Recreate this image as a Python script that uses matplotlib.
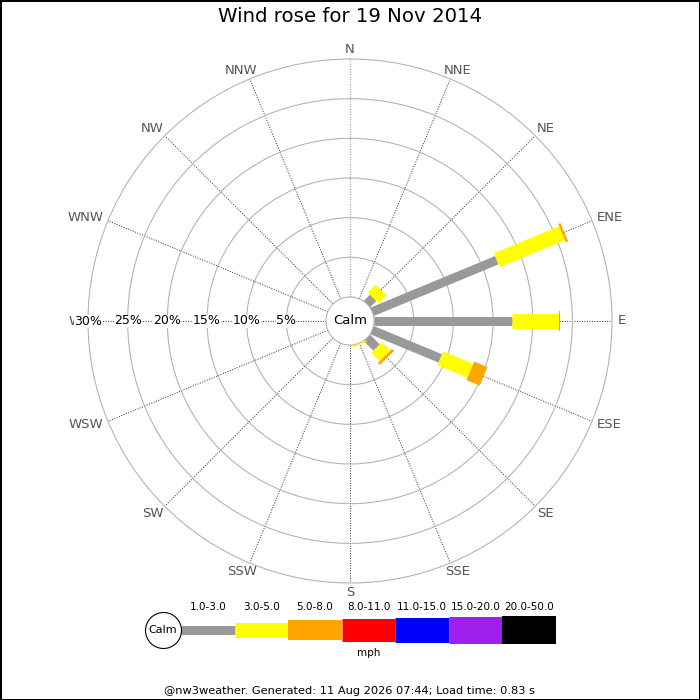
import numpy as np
import matplotlib
matplotlib.use('Agg')
import matplotlib.pyplot as plt
from matplotlib.transforms import offset_copy

directions = ['N', 'NNE', 'NE', 'ENE', 'E', 'ESE', 'SE', 'SSE',
              'S', 'SSW', 'SW', 'WSW', 'W', 'WNW', 'NW', 'NNW']
speed_bins = ['1.0-3.0', '3.0-5.0', '5.0-8.0', '8.0-11.0',
              '11.0-15.0', '15.0-20.0', '20.0-50.0']

# % of the day per direction, one list per speed bin (mph)
spd_1_3 = [0, 0, 1.1, 17.0, 17.4, 9.3, 1.7, 0, 0, 0, 0, 0, 0, 0, 0, 0]
spd_3_5 = [0, 0, 1.4, 8.9, 5.9, 4.1, 1.5, 0.2, 0, 0, 0, 0, 0, 0, 0, 0]
spd_5_8 = [0, 0, 0, 0.3, 0.2, 1.8, 0.35, 0, 0, 0, 0, 0, 0, 0, 0, 0]
spd_8_11 = [0] * 16
spd_11_15 = [0] * 16
spd_15_20 = [0] * 16
spd_20_50 = [0] * 16
bins = [spd_1_3, spd_3_5, spd_5_8, spd_8_11, spd_11_15, spd_15_20, spd_20_50]
rings = [5, 10, 15, 20, 25, 30]

colors = ['#999999', '#ffff00', '#ffa500', '#ff0000', '#0000ff', '#a020f0', '#000000']
bar_px = [9, 15, 20, 23, 25, 27, 28]  # bar thickness in pixels
dpi = 100
lw = [p * 72 / dpi for p in bar_px]

fig = plt.figure(figsize=(7, 7), dpi=dpi)
fig.patch.set_edgecolor('black')
fig.patch.set_linewidth(2)

ax = fig.add_axes([88 / 700, 117 / 700, 524 / 700, 524 / 700], projection='polar')
ax.set_theta_zero_location('N')
ax.set_theta_direction(-1)
ax.set_ylim(0, 30)
ax.set_rorigin(-3.03)

theta = np.deg2rad(np.arange(16) * 22.5)
ax.set_thetagrids(np.arange(16) * 22.5, labels=[''] * 16)
ax.set_rgrids(rings[:-1], labels=[''] * 5)
ax.tick_params(axis='both', length=0)
ax.xaxis.grid(True, color='#444444', linestyle=(0, (1, 1.4)), linewidth=0.75)
ax.yaxis.grid(True, color='#b0b0b0', linestyle='-', linewidth=0.75)
ax.xaxis.get_gridlines()[0].set_color('#999999')
for sp in ('polar', 'inner'):
    ax.spines[sp].set_color('#b0b0b0')
    ax.spines[sp].set_linewidth(0.75)

# stacked bars as thick radial lines
base = np.zeros(16)
for k, vals in enumerate(bins):
    for i in range(16):
        if vals[i] > 0:
            ax.plot([theta[i], theta[i]], [base[i], base[i] + vals[i]],
                    color=colors[k], lw=lw[k], solid_capstyle='butt', zorder=3 + k)
    base += np.array(vals)

# compass labels, pushed outwards by half their width
fig.canvas.draw()
renderer = fig.canvas.get_renderer()
for i, d in enumerate(directions):
    t = ax.text(theta[i], 30.77, d, ha='center', va='center', fontsize=9.5, color='#555555')
    w = t.get_window_extent(renderer).width
    t.set_transform(offset_copy(ax.transData, fig, x=np.sin(theta[i]) * w / 2,
                                y=np.cos(theta[i]) * 3.5, units='dots'))

for r in rings:
    ax.text(np.deg2rad(270), r, f'{r}%', ha='center', va='center', fontsize=9, zorder=10,
            bbox=dict(facecolor='white', edgecolor='none', pad=0))

ax.text(0.5, 0.5, 'Calm', transform=ax.transAxes, ha='center', va='center', fontsize=9.5)

fig.text(0.5, 1 - 17 / 700, 'Wind rose for 19 Nov 2014', ha='center', va='center', fontsize=14.2)

# legend
seg_px = 375 / 7
lax = fig.add_axes([181 / 700, 40 / 700, 375 / 700, 60 / 700])
lax.set_xlim(0, 7)
lax.set_ylim(-1, 1)
lax.axis('off')
for k, lab in enumerate(speed_bins):
    lax.plot([k, k + 1], [0, 0], color=colors[k], lw=lw[k], solid_capstyle='butt')
    lax.text(k + 0.5, 0.77, lab, ha='center', va='center', fontsize=7.5)
lax.plot([-18 / seg_px], [0], marker='o', ms=36 * 72 / dpi, mfc='white', mec='black',
         mew=0.8, clip_on=False, zorder=5)
lax.text(-18 / seg_px, 0, 'Calm', ha='center', va='center', fontsize=8, zorder=6)
lax.text(3.5, -0.77, 'mph', ha='center', va='center', fontsize=7.5)

fig.text(0.5, 1 - 691 / 700, '@nw3weather. Generated: 11 Aug 2026 07:44; Load time: 0.83 s',
         ha='center', va='center', fontsize=8.2)

fig.savefig('out.png', dpi=dpi)
